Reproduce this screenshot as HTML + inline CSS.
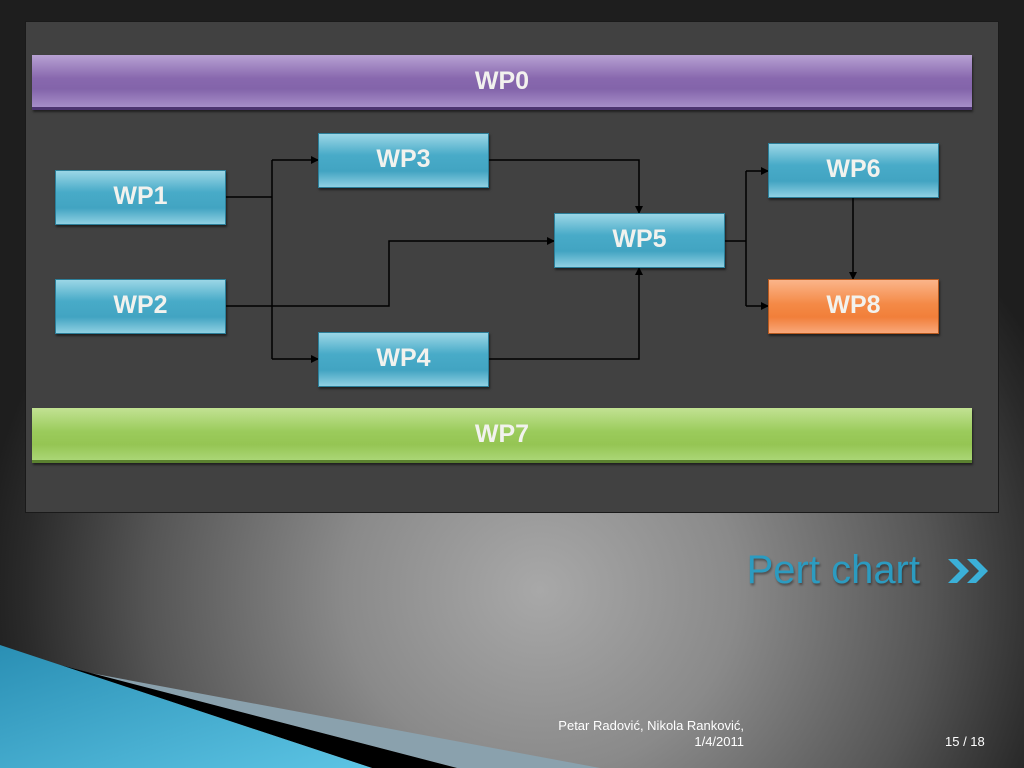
<!DOCTYPE html>
<html><head><style>
body{margin:0;width:1024px;height:768px;overflow:hidden;position:relative;font-family:"Liberation Sans",sans-serif;
background:radial-gradient(ellipse 560px 520px at 540px 590px,#a8a8a8 0%,#8a8a8a 35%,#555 70%,#2a2a2a 92%,#1e1e1e 100%);}
#panel{position:absolute;left:25px;top:21px;width:972px;height:490px;background:#414141;border:1px solid #1a1a1a;}
.b{position:absolute;color:#f2f2ee;font-weight:bold;font-size:25px;text-align:center;box-sizing:border-box;box-shadow:1px 2px 2px rgba(0,0,0,.5);}
.c{background:linear-gradient(#9bd6e6 0%,#48abc8 40%,#42a4c2 70%,#8fd0e2 100%);border:1px solid #2c7f99;line-height:50px;width:171px;height:55px;}
.p{left:32px;top:55px;width:940px;height:55px;line-height:52px;background:linear-gradient(#b7a1d3 0%,#8868ae 45%,#8364aa 65%,#a68ec8 100%);border-bottom:3px solid #4c3470;}
.g{left:32px;top:408px;width:940px;height:55px;line-height:52px;background:linear-gradient(#c2e293 0%,#9bcb5c 45%,#95c553 70%,#aad676 100%);border-bottom:3px solid #5b8130;}
.o{background:linear-gradient(#fbb58a 0%,#f48a47 45%,#f17f3a 70%,#f9a87a 100%);border:1px solid #b65a20;}
</style></head><body>
<div id="panel"></div>
<div class="b p">WP0</div>
<div class="b g">WP7</div>
<svg style="position:absolute;left:0;top:0" width="1024" height="768">
<defs><marker id="a" markerWidth="8" markerHeight="8" refX="7" refY="4" orient="auto" markerUnits="userSpaceOnUse"><path d="M0,0L8,4L0,8z" fill="#000"/></marker>
<linearGradient id="t" x1="0" y1="0" x2="1" y2="1"><stop offset="0" stop-color="#2a8fb4"/><stop offset="1" stop-color="#5cc4e4"/></linearGradient></defs>
<g stroke="#000" stroke-width="1.5" fill="none">
<path d="M225,197H272"/><path d="M272,160V359"/>
<path d="M272,160H318" marker-end="url(#a)"/><path d="M272,359H318" marker-end="url(#a)"/>
<path d="M225,306H389V241H554" marker-end="url(#a)"/>
<path d="M489,160H639V213" marker-end="url(#a)"/>
<path d="M489,359H639V268" marker-end="url(#a)"/>
<path d="M725,241H746"/><path d="M746,171V306"/>
<path d="M746,171H768" marker-end="url(#a)"/><path d="M746,306H768" marker-end="url(#a)"/>
<path d="M853,198V279" marker-end="url(#a)"/>
</g>
<polygon points="85,672 600,768 457,768" fill="#8aa1ad"/>
<polygon points="60,665 457,768 372,768" fill="#000"/>
<polygon points="0,645 0,768 372,768" fill="url(#t)"/>
</svg>
<div class="b c" style="left:55px;top:170px">WP1</div>
<div class="b c" style="left:55px;top:279px">WP2</div>
<div class="b c" style="left:318px;top:133px">WP3</div>
<div class="b c" style="left:318px;top:332px">WP4</div>
<div class="b c" style="left:554px;top:213px">WP5</div>
<div class="b c" style="left:768px;top:143px">WP6</div>
<div class="b c o" style="left:768px;top:279px">WP8</div>
<div style="position:absolute;left:700px;top:548px;width:220px;text-align:right;font-size:40px;color:#2c9bc0;text-shadow:1px 2px 2px rgba(0,0,0,.4)">Pert chart</div>
<svg style="position:absolute;left:948px;top:557px" width="46" height="30"><g fill="#3bb0d8"><path d="M0,2h9l12,12l-12,12h-9l12-12z"/><path d="M19,2h9l12,12l-12,12h-9l12-12z"/></g></svg>
<div style="position:absolute;left:510px;top:718px;width:234px;text-align:right;font-size:13px;color:#fff;line-height:16px">Petar Radović, Nikola Ranković,<br>1/4/2011</div>
<div style="position:absolute;left:945px;top:734px;font-size:13px;color:#fff">15 / 18</div>
</body></html>
